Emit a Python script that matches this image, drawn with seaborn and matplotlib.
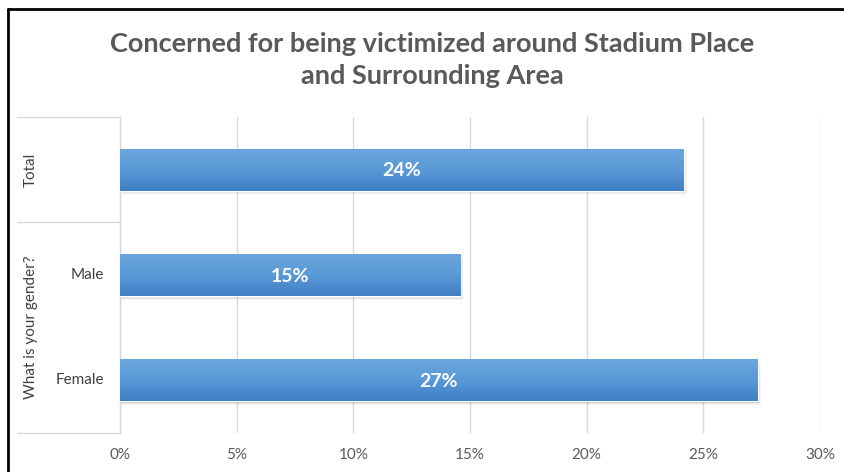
import numpy as np
import pandas as pd
import matplotlib
matplotlib.use("Agg")
import matplotlib.pyplot as plt
from matplotlib.lines import Line2D
from matplotlib.patches import Rectangle
from matplotlib.colors import LinearSegmentedColormap
import seaborn as sns

# Survey results: share concerned about being victimized
categories = ["Total", "Male", "Female"]
values = [0.2417, 0.146, 0.2734]
group_label = "What is your gender?"
x_ticks = [0, 0.05, 0.10, 0.15, 0.20, 0.25, 0.30]
title = "Concerned for being victimized around Stadium Place\nand Surrounding Area"

sns.set_theme(style="white")
plt.rcParams["font.family"] = ["Lato", "DejaVu Sans"]

W, H = 844, 472
fig = plt.figure(figsize=(W / 100, H / 100), dpi=100)
fig.patch.set_facecolor("white")

# plot area in pixel coordinates
x0, x1, y_top, y_bot = 120, 820, 117, 433
ax = fig.add_axes([x0 / W, 1 - y_bot / H, (x1 - x0) / W, (y_bot - y_top) / H])

df = pd.DataFrame({"category": categories, "value": values})
sns.barplot(data=df, x="value", y="category", orient="h", width=0.4,
            color="#5b9bd5", ax=ax, saturation=1, zorder=3)

ax.set_xlim(0, 0.30)
ax.set_ylim(2.5, -0.5)
ax.set_xticks(x_ticks)
ax.set_xticklabels([f"{t:.0%}" for t in x_ticks], fontsize=11, color="#595959")
ax.tick_params(axis="x", length=0, pad=11)
ax.set_yticks([])
ax.set_xlabel("")
ax.set_ylabel("")
for s in ["top", "right", "bottom"]:
    ax.spines[s].set_visible(False)
ax.spines["left"].set_color("#d9d9d9")
ax.spines["left"].set_linewidth(1.0)
ax.grid(axis="x", color="#d9d9d9", linewidth=1.0, zorder=0)
ax.set_axisbelow(True)

# gradient fill and soft shadow on each bar
grad = LinearSegmentedColormap.from_list("bar", ["#6ca6dc", "#5a9ad8", "#3f7fc4"])
gimg = np.linspace(0, 1, 64).reshape(-1, 1)
for bar, v in zip(ax.patches, values):
    bx, by = bar.get_x(), bar.get_y()
    bw, bh = bar.get_width(), bar.get_height()
    for k, a in enumerate([0.10, 0.07, 0.04]):
        sh = Rectangle((bx, by + 0.012 * (k + 1)), bw + 0.0004 * (k + 1), bh,
                       facecolor="black", alpha=a, edgecolor="none", zorder=2)
        ax.add_patch(sh)
    im = ax.imshow(gimg, cmap=grad, aspect="auto",
                   extent=[bx, bx + bw, by + bh, by], zorder=4)
    im.set_clip_path(bar)
    ax.text(bx + bw / 2, by + bh / 2 + 0.01, f"{v:.0%}", ha="center", va="center",
            color="white", fontsize=14, fontweight="bold", zorder=5)

ax.set_xlim(0, 0.30)
ax.set_ylim(2.5, -0.5)

# category table to the left of the axis
lc = "#d9d9d9"
xl = (17 - x0) / (x1 - x0)
for yy in [-0.5, 0.5, 2.5]:
    ax.add_line(Line2D([xl, 0], [yy, yy], color=lc, linewidth=1.0,
                       transform=ax.get_yaxis_transform(), clip_on=False))

xt = (31 - x0) / (x1 - x0)
ax.text(xt, 0, "Total", rotation=90, ha="center", va="center", fontsize=11,
        color="#404040", transform=ax.get_yaxis_transform())
ax.text(xt, 1.5, group_label, rotation=90, ha="center", va="center", fontsize=11,
        color="#404040", transform=ax.get_yaxis_transform())
xr = (104 - x0) / (x1 - x0)
for i, c in enumerate(categories[1:], start=1):
    ax.text(xr, i, c, ha="right", va="center", fontsize=11, color="#404040",
            transform=ax.get_yaxis_transform())

fig.text(432 / W, 1 - 60 / H, title, ha="center", va="center", fontsize=19.5,
         fontweight="bold", color="#595959", linespacing=1.45)

# outer frame (top and left edges)
fig.add_artist(Line2D([8 / W, 8 / W], [0, 1 - 8.5 / H], color="black", linewidth=2,
                      transform=fig.transFigure))
fig.add_artist(Line2D([7.5 / W, 1], [1 - 8.5 / H, 1 - 8.5 / H], color="black",
                      linewidth=2, transform=fig.transFigure))

fig.savefig("out.png", dpi=100, facecolor="white")
